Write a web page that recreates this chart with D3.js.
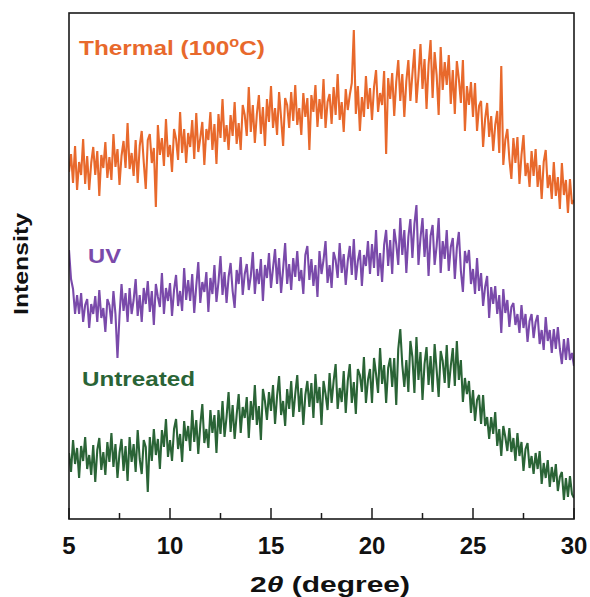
<!DOCTYPE html>
<html>
<head>
<meta charset="utf-8">
<script src="https://cdn.jsdelivr.net/npm/d3@7"></script>
<style>
  body { margin: 0; background: #fff; }
  text { font-family: "Liberation Sans", Arial, sans-serif; font-weight: bold; }
</style>
</head>
<body>
<div id="chart"></div>
<script>
'use strict'

// 2theta from 5 to 30 deg, step 0.1
const two_theta_start = 5
const two_theta_step = 0.1

const x_ticks = [5, 10, 15, 20, 25, 30]
const x_minor_ticks = [7.5, 12.5, 17.5, 22.5, 27.5]

const series_names = ["Thermal (100\u00b0C)", "UV", "Untreated"]

// intensity (a.u., curves stacked as in the figure)
const thermal = [
	347,365,336,373,329, 357,344,380,335,363, 329,356,372,344,368, 323,364,351,377,341,
	362,339,385,352,370, 334,363,378,351,396, 350,366,343,379,336, 373,388,357,330,379,
	385,356,371,312,394, 364,381,353,400,362, 374,347,390,380,359, 407,366,390,356,386,
	372,399,360,406,367, 381,397,354,390,379, 407,369,395,355,405, 381,420,377,394,369,
	404,383,417,375,396, 369,414,404,383,432, 387,414,376,405,424, 385,412,373,420,397,
	433,391,411,384,427, 401,373,421,414,391, 427,398,434,394,411, 384,426,402,421,369,
	424,407,434,392,420, 400,440,391,417,425, 395,432,404,445,399, 417,387,430,409,424,
	436,489,405,433,388, 422,402,443,410,431, 399,432,449,407,426, 414,448,365,441,420,
	446,403,437,459,418, 445,402,438,459,418, 445,470,416,443,475, 430,460,410,454,479,
	421,467,444,404,472, 429,457,434,464,415, 449,405,458,440,416, 459,388,433,414,437,
	402,436,388,413,418, 372,400,416,382,403, 368,394,408,366,453, 354,379,390,360,340,
	381,356,382,335,364, 384,343,356,332,368, 343,370,332,354,320, 357,369,331,344,320,
	357,323,342,310,356, 324,339,306,340,315, 319
]

const uv = [
	269,240,230,205,224, 205,226,197,214,220, 191,215,205,223,197, 229,201,211,187,220,
	214,195,228,205,161, 203,235,208,226,197, 231,205,219,240,203, 224,197,231,215,238,
	207,228,194,235,222, 212,246,205,231,218, 236,203,229,244,213, 228,208,251,219,239,
	218,245,206,233,257, 216,237,227,247,207, 241,225,254,217,237, 263,224,247,216,242,
	256,228,211,249,235, 262,224,245,255,229, 243,267,225,250,235, 260,218,254,241,266,
	231,251,270,235,261, 226,250,276,235,255, 229,261,242,268,238, 249,225,264,273,239,
	260,233,254,222,268, 245,259,278,236,254, 231,267,259,241,276, 246,265,234,258,273,
	244,280,239,258,269, 233,264,253,278,245, 275,251,289,243,266, 237,274,289,253,279,
	245,290,275,254,301, 264,289,246,282,300, 261,295,314,254,281, 301,262,290,243,283,
	294,254,273,301,246, 278,260,289,248,272, 281,240,271,287,248, 227,268,256,269,235,
	250,225,261,228,246, 213,232,243,201,232, 215,233,205,224,186, 230,206,219,192,212,
	216,194,205,186,214, 191,205,177,198,205, 181,197,204,175,189, 169,202,178,189,166,
	190,170,192,170,155, 180,159,181,159,166, 153
]

const untreated = [
	66,47,79,55,71, 41,73,58,82,50, 64,44,74,37,69, 81,49,67,44,77,
	57,86,52,75,41, 66,80,48,73,38, 82,57,75,47,89, 60,45,79,72,27,
	82,58,90,64,80, 50,89,72,100,62, 79,58,90,100,70, 85,57,98,78,93,
	68,109,77,99,65, 94,115,76,90,71, 109,86,104,66,109, 85,118,82,102,127,
	87,114,80,104,125, 86,112,101,122,81, 118,99,134,94,113, 79,130,118,99,127,
	108,134,95,123,143, 104,118,93,130,110, 138,102,125,144,107, 131,94,124,138,112,
	136,101,145,116,132, 94,138,125,109,146, 116,138,155,110,131, 117,148,106,138,155,
	116,137,105,150,144, 127,162,116,139,150, 116,161,145,126,171, 135,154,116,151,161,
	132,161,114,170,190, 154,132,159,127,178, 162,126,182,139,167, 119,155,172,134,163,
	127,175,149,122,168, 158,136,174,131,153, 171,133,178,139,159, 117,141,125,138,106,
	129,98,119,124,95, 124,93,102,80,102, 85,107,73,90,63, 93,82,68,91,67,
	81,58,86,63,77, 48,70,76,51,63, 45,66,50,68,35, 56,41,59,32,52,
	37,55,28,42,47, 19,41,22,43,25, 21
]

const series_colors = ["#E8692C", "#7A4AAA", "#2A6436"]

function draw(){
	const width = 590
	const height = 597
	const margin = {top: 13, right: 16, bottom: 78, left: 69}
	const plotW = width - margin.left - margin.right
	const plotH = height - margin.top - margin.bottom

	let svg = d3.select("#chart").append("svg")
		.attr("width", width).attr("height", height)

	let xScale = d3.scaleLinear().domain([5, 30]).range([0, plotW])
	let yScale = d3.scaleLinear().domain([0, 506]).range([plotH, 0])

	svg.append("defs").append("clipPath").attr("id", "plotclip")
		.append("rect").attr("width", plotW).attr("height", plotH)

	let g = svg.append("g").attr("transform", "translate(" + margin.left + "," + margin.top + ")")

	let line = d3.line()
		.x(function(d, i){ return xScale(two_theta_start + i * two_theta_step) })
		.y(function(d){ return yScale(d) })

	let all = [thermal, uv, untreated]
	let lg = g.append("g").attr("clip-path", "url(#plotclip)")
	all.forEach(function(s, k){
		lg.append("path")
			.datum(s)
			.attr("d", line)
			.attr("fill", "none")
			.attr("stroke", series_colors[k])
			.attr("stroke-width", 2.1)
			.attr("stroke-linejoin", "bevel")
	})

	// frame
	g.append("rect")
		.attr("width", plotW).attr("height", plotH)
		.attr("fill", "none").attr("stroke", "#1a1a1a").attr("stroke-width", 1.6)

	// bottom axis, ticks pointing in
	let xAxis = g.append("g").attr("transform", "translate(0," + plotH + ")")
	xAxis.selectAll(".major").data(x_ticks).enter().append("line")
		.attr("x1", xScale).attr("x2", xScale)
		.attr("y1", 0).attr("y2", -11)
		.attr("stroke", "#1a1a1a").attr("stroke-width", 1.5)
	xAxis.selectAll(".minor").data(x_minor_ticks).enter().append("line")
		.attr("x1", xScale).attr("x2", xScale)
		.attr("y1", 0).attr("y2", -6)
		.attr("stroke", "#1a1a1a").attr("stroke-width", 1.5)
	xAxis.selectAll(".tlabel").data(x_ticks).enter().append("text")
		.attr("x", xScale).attr("y", 35)
		.attr("text-anchor", "middle")
		.attr("font-size", 24)
		.attr("fill", "#111")
		.text(function(d){ return d })

	// axis titles
	let xt = svg.append("text")
		.attr("x", 250).attr("y", 592)
		.attr("font-size", 22).attr("fill", "#111")
		.attr("textLength", 160).attr("lengthAdjust", "spacingAndGlyphs")
	xt.append("tspan").text("2")
	xt.append("tspan").attr("font-style", "italic").text("\u03b8")
	xt.append("tspan").text("  (degree)")

	svg.append("text")
		.attr("transform", "translate(28,264) rotate(-90)")
		.attr("text-anchor", "middle")
		.attr("font-size", 21).attr("fill", "#111")
		.attr("textLength", 102).attr("lengthAdjust", "spacingAndGlyphs")
		.text("Intensity")

	// series labels
	let t1 = svg.append("text")
		.attr("x", 79).attr("y", 55)
		.attr("font-size", 21).attr("fill", series_colors[0])
		.attr("textLength", 186).attr("lengthAdjust", "spacingAndGlyphs")
	t1.append("tspan").text("Thermal (100")
	t1.append("tspan").attr("font-size", 14).attr("dy", -8).text("o")
	t1.append("tspan").attr("dy", 8).text("C)")

	svg.append("text")
		.attr("x", 88).attr("y", 263)
		.attr("font-size", 21).attr("fill", series_colors[1])
		.attr("textLength", 33).attr("lengthAdjust", "spacingAndGlyphs")
		.text(series_names[1])

	svg.append("text")
		.attr("x", 82).attr("y", 386)
		.attr("font-size", 21).attr("fill", series_colors[2])
		.attr("textLength", 113).attr("lengthAdjust", "spacingAndGlyphs")
		.text(series_names[2])
}

draw()
</script>
</body>
</html>
